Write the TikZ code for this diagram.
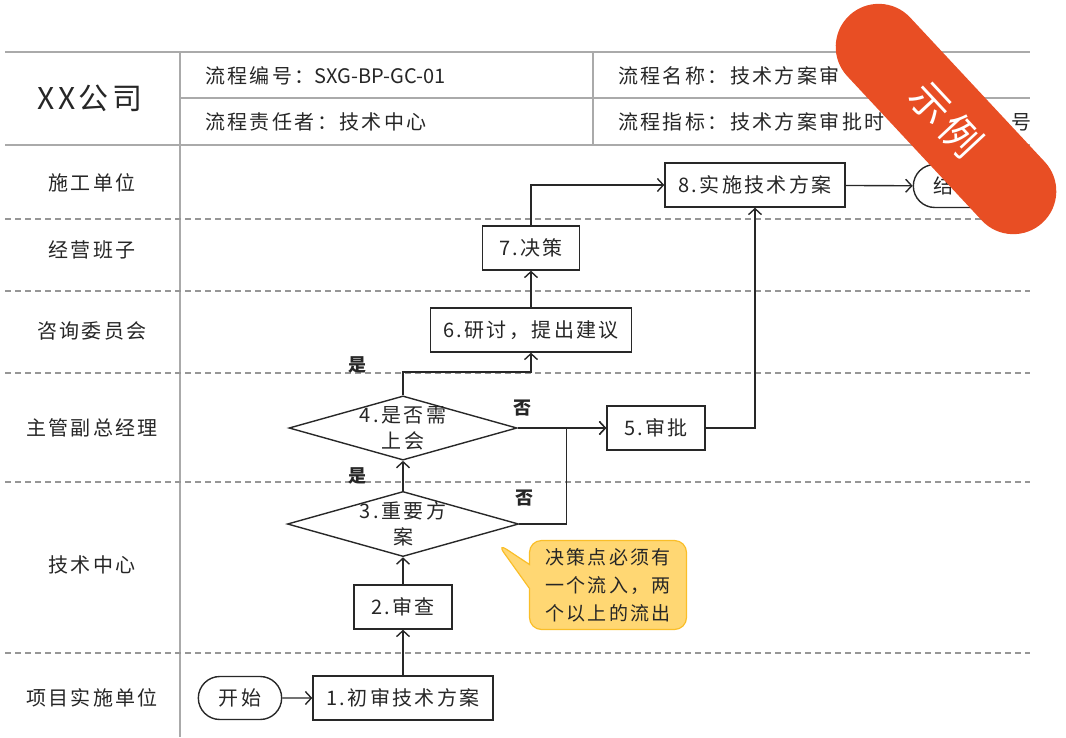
\documentclass[tikz,border=0pt]{standalone}
\usepackage{fontspec}
\setmainfont{Noto Sans CJK SC}[LetterSpace=12]
\newfontfamily\codefont{Noto Sans CJK SC}
\usetikzlibrary{arrows.meta,positioning,shapes.geometric,shapes.misc,shapes.callouts}

\definecolor{gridgray}{RGB}{170,170,170}
\definecolor{lanegray}{RGB}{150,150,150}
\definecolor{boxline}{RGB}{40,40,40}
\definecolor{notefill}{RGB}{255,215,115}
\definecolor{noteline}{RGB}{250,190,40}
\definecolor{badgered}{RGB}{232,78,36}

\begin{document}
\begin{tikzpicture}[x=1pt,y=-1pt,font=\fontsize{20}{26}\selectfont,every node/.style={text=black!85},
	grid/.style={gridgray,line width=1.2pt},
	lane/.style={lanegray,dash pattern=on 6pt off 4pt,line width=1.2pt},
	process/.style={draw=boxline,line width=1.4pt,minimum width=#1,minimum height=44pt,inner sep=0pt},
	process/.default=98pt,
	decision/.style={diamond,draw=boxline,line width=1.4pt,aspect=3.55,inner xsep=-6.5pt,inner ysep=0pt,minimum width=227pt,minimum height=64pt,align=center},
	terminal/.style={rounded rectangle,draw=boxline,line width=1.4pt,minimum width=90pt,minimum height=43pt},
	flow/.style={draw=boxline,line width=1.4pt,-{Straight Barb[length=6pt,width=13pt]}},
	lbl/.style={inner sep=0pt,font=\fontsize{18}{18}\selectfont\bfseries},
	head/.style={inner sep=0pt,anchor=west}]
	\useasboundingbox (0,0) rectangle (1066,737);

	% header table
	\draw[grid] (5,52) -- (1030,52);
	\draw[grid] (180,98) -- (1030,98);
	\draw[grid] (5,145) -- (1030,145);
	\draw[grid] (180,52) -- (180,737);
	\draw[grid] (593,52) -- (593,145);

	\node (company) at (90,98) [font=\fontsize{30}{34}\selectfont] {XX公司};
	\node (code) at (205,76) [head] {流程编号：{\codefont SXG-BP-GC-01}};
	\node (owner) at (205,122) [head] {流程责任者：技术中心};
	\node (pname) at (618,76) [head] {流程名称：技术方案审};
	\node (pindex) at (618,122) [head] {流程指标：技术方案审批时};
	\node (pindex2) at (1032,122) [head,anchor=east] {号};

	% swim lanes
	\foreach \y in {219,291,373,482,653}
		\draw[lane] (5,\y) -- (1030,\y);
	\foreach \y/\name [count=\i] in {183/施工单位,250/经营班子,331/咨询委员会,428/主管副总经理,565/技术中心,698/项目实施单位}
		\node (lane\i) at (92,\y) {\name};

	% steps
	\node (start) at (240,698) [terminal] {开始};
	\node (n1) at (403,698) [process=180pt] {1.初审技术方案};
	\node (n2) at (403,607) [process] {2.审查};
	\node (n3) at (403,524) [decision] {3.重要方\\案};
	\node (n4) at (403,428) [decision] {4.是否需\\上会};
	\node (n5) at (656,428) [process] {5.审批};
	\node (n6) at (531,330) [process=201pt] {6.研讨，提出建议};
	\node (n7) at (531,248) [process=97pt] {7.决策};
	\node (n8) at (755,185) [process=180pt] {8.实施技术方案};
	\node (stop) at (955,186) [terminal] {结束};

	\node (yes1) [lbl,above left=6pt and 36pt of n3.north] {是};
	\node (no1) [lbl,above right=18pt and -4pt of n3.east] {否};
	\node (yes2) [lbl,above left=22pt and 36pt of n4.north] {是};
	\node (no2) [lbl,above right=12pt and -4pt of n4.east] {否};

	% connectors
	\draw[flow] (start) -- (n1);
	\draw[flow] (n1) -- (n2);
	\draw[flow] (n2) -- (n3);
	\draw[flow] (n3) -- (n4);
	\draw[flow] (n3.east) -- ++(47,0) |- (n5.west);
	\draw[flow] (n4.east) -- (n5.west);
	\draw[flow] (n4.north) -- ++(0,-23) -| (n6.south);
	\draw[flow] (n6) -- (n7);
	\draw[flow] (n7.north) |- (n8.west);
	\draw[flow] (n5.east) -| (n8.south);
	\draw[flow] (n8) -- (stop);

	% note
	\node (note) at (608,585) [rectangle callout,fill=notefill,draw=noteline,line width=1.2pt,rounded corners=12pt,minimum width=157pt,minimum height=89pt,callout absolute pointer={(497,543)},callout pointer width=24pt,align=center,font=\fontsize{19}{28}\selectfont] {决策点必须有\\一个流入，两\\个以上的流出};

	% sample badge
	\node (badge) at (946,119) [rounded rectangle,fill=badgered,rotate=-47,minimum width=290pt,minimum height=86pt,text=white,font=\fontsize{40}{40}\selectfont] {示例};
\end{tikzpicture}
\end{document}
